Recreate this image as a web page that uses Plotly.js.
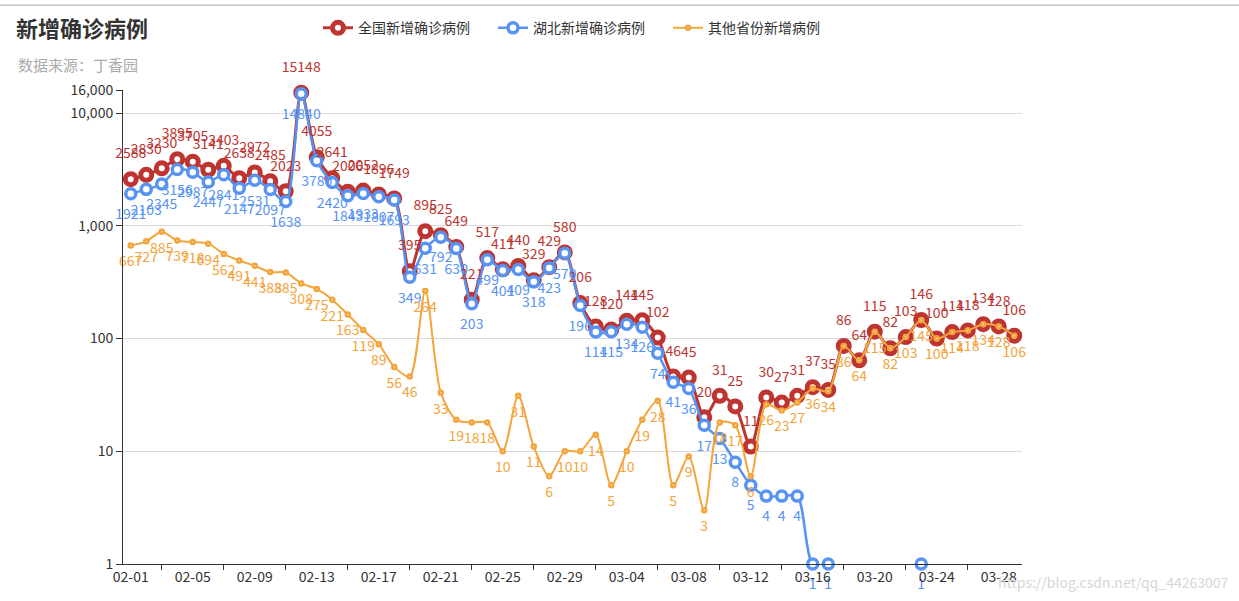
<!DOCTYPE html>
<html>
<head>
<meta charset="utf-8">
<script src="https://cdn.plot.ly/plotly-3.0.1.min.js"></script>
<style>html,body{margin:0;padding:0;background:#fff;}#chart{width:1239px;height:601px;}</style>
</head>
<body>
<div id="chart"></div>
<script>
// Dates 02-01 .. 03-29
const dates = ["02-01","02-02","02-03","02-04","02-05","02-06","02-07","02-08","02-09","02-10",
  "02-11","02-12","02-13","02-14","02-15","02-16","02-17","02-18","02-19","02-20",
  "02-21","02-22","02-23","02-24","02-25","02-26","02-27","02-28","02-29","03-01",
  "03-02","03-03","03-04","03-05","03-06","03-07","03-08","03-09","03-10","03-11",
  "03-12","03-13","03-14","03-15","03-16","03-17","03-18","03-19","03-20","03-21",
  "03-22","03-23","03-24","03-25","03-26","03-27","03-28","03-29"];

const nationalNew = [2588,2830,3230,3895,3705,3141,3403,2638,2972,2485,
  2023,15148,4055,2641,2006,2052,1896,1749,395,895,
  825,649,221,517,411,440,329,429,580,206,
  128,120,144,145,102,46,45,20,31,25,
  11,30,27,31,37,35,86,64,115,82,
  103,146,100,114,118,134,128,106];

const hubeiNew = [1921,2103,2345,3156,2987,2447,2841,2147,2531,2097,
  1638,14840,3780,2420,1843,1933,1807,1693,349,631,
  792,630,203,499,401,409,318,423,570,196,
  114,115,134,126,74,41,36,17,13,8,
  5,4,4,4,1,1,0,0,0,0,
  0,1,0,0,0,0,0,0];

const otherNew = [667,727,885,739,718,694,562,491,441,388,
  385,308,275,221,163,119,89,56,46,264,
  33,19,18,18,10,31,11,6,10,10,
  14,5,10,19,28,5,9,3,18,17,
  6,26,23,27,36,34,86,64,115,82,
  103,145,100,114,118,134,128,106];

const seriesNames = ["全国新增确诊病例","湖北新增确诊病例","其他省份新增病例"];
const yTickVals = [1,10,100,1000,10000,16000];
const yTickText = ["1","10","100","1,000","10,000","16,000"];

const idx = dates.map((d,i)=>i);
const labelIdx = idx.filter(i=>i%4===0);
const tickIdx = idx.filter(i=>i%4===2);

const FONT = '"Noto Sans CJK SC", "Noto Sans", sans-serif';
const RED = '#bd3430', BLUE = '#5793f3', ORANGE = '#f3a43b';

const toLog = arr => arr.map(v => v > 0 ? v : null);
const toText = arr => arr.map(v => v > 0 ? String(v) : '');

function lineTrace(name, vals, color, lineW, mSize, mFill, mLineW) {
  return {
    name: name, x: idx, y: toLog(vals), mode: 'lines+markers', cliponaxis: false,
    line: {color: color, width: lineW, shape: 'spline', smoothing: 0.8},
    marker: {symbol: 'circle', size: mSize, color: mFill, line: {color: color, width: mLineW}},
    connectgaps: false, hoverinfo: 'skip'
  };
}
function labelTrace(vals, color, pos, gapSize) {
  return {
    x: idx, y: toLog(vals), text: toText(vals), mode: 'markers+text',
    textposition: pos, cliponaxis: false, showlegend: false,
    textfont: {color: color, size: 14, family: FONT},
    marker: {size: gapSize, color: 'rgba(0,0,0,0)', line: {width: 0}},
    hoverinfo: 'skip'
  };
}

const traces = [
  lineTrace(seriesNames[0], nationalNew, RED, 3, 11, '#fff', 5),
  lineTrace(seriesNames[1], hubeiNew, BLUE, 2.5, 10, '#fff', 3.5),
  lineTrace(seriesNames[2], otherNew, ORANGE, 2, 4, '#fde8c8', 2.5),
  labelTrace(nationalNew, RED, 'top center', 26),
  labelTrace(hubeiNew, BLUE, 'bottom center', 22),
  labelTrace(otherNew, ORANGE, 'bottom center', 15)
];

const L = 123, R = 1022, T = 88, B = 564, W = 1239, H = 601;
const px = x => (x - L) / (R - L);
const py = y => (B - y) / (B - T);

const layout = {
  width: W, height: H,
  margin: {l: L, r: W - R, t: T, b: H - B, pad: 0},
  paper_bgcolor: '#fff', plot_bgcolor: '#fff',
  font: {family: FONT, color: '#333', size: 14},
  title: {
    text: '<b>新增确诊病例</b>', font: {size: 22, color: '#333', family: FONT},
    x: 16 / W, xanchor: 'left', xref: 'container',
    y: 1 - 29 / H, yanchor: 'middle', yref: 'container'
  },
  showlegend: true,
  legend: {
    orientation: 'h', x: px(318), xanchor: 'left', y: py(26), yanchor: 'middle',
    font: {size: 14, color: '#333', family: FONT}, itemwidth: 30,
    entrywidth: 130, entrywidthmode: 'pixels',
    bgcolor: 'rgba(0,0,0,0)'
  },
  xaxis: {
    type: 'linear', range: [-0.5, dates.length - 0.5],
    tickmode: 'array', tickvals: labelIdx, ticktext: labelIdx.map(i => dates[i]),
    ticks: '', showgrid: false, zeroline: false,
    showline: true, linecolor: '#333', linewidth: 1,
    tickfont: {size: 14, color: '#333', family: FONT},
    minor: {tickmode: 'array', tickvals: tickIdx, ticks: 'outside', ticklen: 5, tickcolor: '#333', tickwidth: 1, showgrid: false},
    fixedrange: true
  },
  yaxis: {
    type: 'log', range: [0, Math.log10(16000)],
    tickmode: 'array', tickvals: yTickVals, ticktext: yTickText,
    ticks: 'outside', ticklen: 6, tickcolor: '#333',
    showgrid: true, gridcolor: '#d9d9d9', gridwidth: 1,
    showline: true, linecolor: '#333', linewidth: 1, zeroline: false,
    tickfont: {size: 14, color: '#333', family: FONT},
    fixedrange: true
  },
  annotations: [
    {
      text: '数据来源：丁香园', xref: 'paper', yref: 'paper',
      x: px(16), xanchor: 'left', y: py(62), yanchor: 'middle',
      showarrow: false, font: {size: 15, color: '#aaa', family: FONT}
    },
    {
      text: 'https://blog.csdn.net/qq_44263007', xref: 'paper', yref: 'paper',
      x: px(1231), xanchor: 'right', y: py(582), yanchor: 'middle',
      showarrow: false, font: {size: 14, color: '#d6d6d6', family: FONT}
    }
  ],
  shapes: [
    {type: 'line', xref: 'paper', yref: 'paper', x0: px(0), x1: px(W), y0: py(3), y1: py(3),
     line: {color: '#c4c4c4', width: 1.5}, layer: 'above'}
  ]
};

Plotly.newPlot('chart', traces, layout, {displayModeBar: false, staticPlot: true});
</script>
</body>
</html>
